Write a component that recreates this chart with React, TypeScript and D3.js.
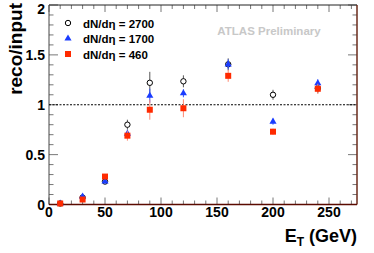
import React, { useEffect, useRef } from 'react'
import * as d3 from 'd3'

const et = [10, 30, 50, 70, 90, 120, 160, 200, 240]
const n2700 = [0.01, 0.07, 0.23, 0.8, 1.22, 1.235, 1.405, 1.1, 1.165]
const n2700err = [0.01, 0.02, 0.02, 0.05, 0.11, 0.06, 0.06, 0.05, 0.05]
const n1700 = [0.01, 0.08, 0.23, 0.71, 1.09, 1.115, 1.405, 0.83, 1.215]
const n1700err = [0.01, 0.01, 0.02, 0.03, 0.07, 0.04, 0.05, 0.03, 0.04]
const n460 = [0.01, 0.05, 0.28, 0.69, 0.95, 0.965, 1.29, 0.73, 1.16]
const n460err = [0.01, 0.02, 0.02, 0.05, 0.1, 0.09, 0.06, 0.03, 0.05]

const series = [
  { label: 'dN/dη = 2700', values: n2700, errs: n2700err, kind: 'circle', color: '#000', errColor: '#555' },
  { label: 'dN/dη = 1700', values: n1700, errs: n1700err, kind: 'triangle', color: '#1a3cff', errColor: '#3355ff' },
  { label: 'dN/dη = 460', values: n460, errs: n460err, kind: 'square', color: '#ff2a00', errColor: '#ff8870' },
]

const xTicks = [0, 50, 100, 150, 200, 250]
const yTicks = [0, 0.5, 1, 1.5, 2]

export default function App() {
  const ref = useRef<SVGSVGElement>(null)

  useEffect(() => {
    const svg = d3.select(ref.current)
    svg.selectAll('*').remove()
    const font = '"Liberation Sans", Arial, sans-serif'
    const left = 49, right = 357, top = 5, bottom = 204.5

    const x = d3.scaleLinear().domain([0, 275]).range([left, right])
    const y = d3.scaleLinear().domain([0, 2]).range([bottom, top])

    // minor + major ticks on all four sides
    const g = svg.append('g').attr('stroke', '#777').attr('stroke-width', 1)
    d3.range(0, 271, 10).forEach(v => {
      const len = v % 50 === 0 ? 7 : 4
      g.append('line').attr('x1', x(v)).attr('x2', x(v)).attr('y1', bottom).attr('y2', bottom - len)
      g.append('line').attr('x1', x(v)).attr('x2', x(v)).attr('y1', top).attr('y2', top + len)
    })
    d3.range(0, 2.001, 0.1).forEach(v => {
      const major = Math.abs(v * 2 - Math.round(v * 2)) < 1e-6
      const len = major ? 9 : 4.5
      g.append('line').attr('x1', left).attr('x2', left + len).attr('y1', y(v)).attr('y2', y(v))
      g.append('line').attr('x1', right).attr('x2', right - len).attr('y1', y(v)).attr('y2', y(v))
    })

    // frame
    svg.append('line').attr('x1', left).attr('x2', right).attr('y1', top).attr('y2', top).attr('stroke', '#222')
    svg.append('line').attr('x1', left).attr('x2', left).attr('y1', top).attr('y2', bottom).attr('stroke', '#444')
    svg.append('line').attr('x1', right).attr('x2', right).attr('y1', top).attr('y2', bottom).attr('stroke', '#6a2a1a').attr('stroke-width', 1.5)
    svg.append('line').attr('x1', left).attr('x2', right).attr('y1', bottom).attr('y2', bottom).attr('stroke', '#5a0a00').attr('stroke-width', 1.5)

    // reference line at 1
    svg.append('line').attr('x1', left).attr('x2', right).attr('y1', y(1)).attr('y2', y(1))
      .attr('stroke', '#000').attr('stroke-dasharray', '2,1.5')

    // tick labels
    svg.append('g').selectAll('text').data(xTicks).join('text')
      .attr('x', d => x(d)).attr('y', 217).attr('text-anchor', 'middle')
      .attr('font-family', font).attr('font-weight', 'bold').attr('font-size', 14)
      .text(d => d)
    svg.append('g').selectAll('text').data(yTicks).join('text')
      .attr('x', 45).attr('y', d => Math.max(y(d) + 5, 14)).attr('text-anchor', 'end')
      .attr('font-family', font).attr('font-weight', 'bold').attr('font-size', 14)
      .text(d => d)

    // axis titles
    svg.append('text').attr('transform', 'translate(22,3) rotate(-90)').attr('text-anchor', 'end')
      .attr('font-family', font).attr('font-weight', 'bold').attr('font-size', 19).text('reco/input')
    const xt = svg.append('text').attr('x', 357).attr('y', 242).attr('text-anchor', 'end')
      .attr('font-family', font).attr('font-weight', 'bold').attr('font-size', 18)
    xt.append('tspan').text('E')
    xt.append('tspan').attr('font-size', 12).attr('dy', 4).text('T')
    xt.append('tspan').attr('dy', -4).text(' (GeV)')

    svg.append('text').attr('x', 269).attr('y', 35).attr('text-anchor', 'middle')
      .attr('font-family', font).attr('font-weight', 'bold').attr('font-size', 11.5)
      .attr('fill', '#c8c8c8').text('ATLAS Preliminary')

    const marker = (sel: any, kind: string, color: string, cx: number, cy: number) => {
      if (kind === 'circle') {
        sel.append('circle').attr('cx', cx).attr('cy', cy).attr('r', 2.7).attr('fill', '#fff').attr('stroke', color).attr('stroke-width', 1)
      } else if (kind === 'triangle') {
        const sym = d3.symbol(d3.symbolTriangle, 22)
        sel.append('path').attr('d', sym()).attr('transform', `translate(${cx},${cy})`).attr('fill', color)
      } else {
        sel.append('rect').attr('x', cx - 3).attr('y', cy - 3).attr('width', 6).attr('height', 6).attr('fill', color)
      }
    }

    // data: circles first, then triangles, squares on top
    series.forEach(s => {
      const sg = svg.append('g')
      et.forEach((e, i) => {
        const v = s.values[i], er = s.errs[i]
        sg.append('line').attr('x1', x(e)).attr('x2', x(e)).attr('y1', y(v - er)).attr('y2', y(v + er))
          .attr('stroke', s.errColor).attr('stroke-width', 1)
      })
      et.forEach((e, i) => marker(sg, s.kind, s.color, x(e), y(s.values[i])))
    })

    // legend
    series.forEach((s, i) => {
      const ly = 23 + i * 15.5
      marker(svg, s.kind, s.color, 68, ly)
      svg.append('text').attr('x', 83).attr('y', ly + 4.5)
        .attr('font-family', font).attr('font-weight', 'bold').attr('font-size', 11.5).text(s.label)
    })
  }, [])

  return (
    <svg ref={ref} width={374} height={253}
      style={{ position: 'absolute', left: 0, top: 0, background: '#fff' }} />
  )
}
